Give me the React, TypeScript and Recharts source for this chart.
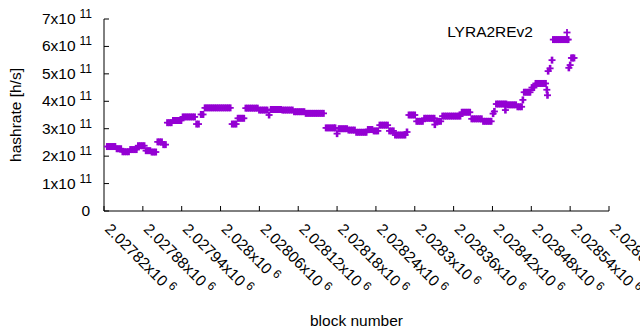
import React from 'react';
import { ScatterChart, Scatter, XAxis, YAxis, Legend } from 'recharts';

const PURPLE = '#9400D3';
const FONT = "'Liberation Sans', Arial, sans-serif";

const seriesName = 'LYRA2REv2';
const xTicks = [2027820, 2027880, 2027940, 2028000, 2028060, 2028120, 2028180, 2028240, 2028300, 2028360, 2028420, 2028480, 2028540, 2028600];
const yTicks = [0, 1e11, 2e11, 3e11, 4e11, 5e11, 6e11, 7e11];

const blocks = [
  2027825, 2027828, 2027831, 2027834, 2027837,
  2027840, 2027843, 2027846,
  2027849, 2027852, 2027855, 2027858,
  2027861, 2027864, 2027867, 2027870,
  2027873, 2027876, 2027879, 2027882,
  2027885, 2027888, 2027891,
  2027894, 2027897, 2027900,
  2027903, 2027906, 2027909,
  2027912, 2027915,
  2027918, 2027921, 2027924,
  2027927, 2027930, 2027933, 2027936, 2027939,
  2027942, 2027945, 2027948, 2027951, 2027954, 2027957, 2027960,
  2027963, 2027966,
  2027970, 2027973,
  2027976, 2027979, 2027982, 2027985, 2027988, 2027991, 2027994, 2027997, 2028000, 2028003, 2028006, 2028009, 2028012, 2028015,
  2028018, 2028021, 2028024,
  2028027, 2028030, 2028033, 2028036,
  2028039, 2028042, 2028045, 2028048, 2028051, 2028054, 2028057,
  2028060, 2028063, 2028066, 2028069, 2028072,
  2028075,
  2028078, 2028081, 2028084, 2028087, 2028090, 2028093,
  2028096, 2028099, 2028102, 2028105, 2028108, 2028111,
  2028114, 2028117, 2028120, 2028123, 2028126, 2028129,
  2028132, 2028135, 2028138, 2028141, 2028144, 2028147, 2028150, 2028153, 2028156, 2028159,
  2028163, 2028166, 2028169, 2028172, 2028175, 2028177,
  2028180,
  2028183, 2028186, 2028189, 2028192, 2028195,
  2028198, 2028201, 2028204, 2028207,
  2028210, 2028213, 2028216, 2028219, 2028222, 2028225,
  2028228, 2028231, 2028234,
  2028237, 2028240, 2028243,
  2028246, 2028249, 2028252, 2028255, 2028258,
  2028261, 2028264, 2028267,
  2028270, 2028273, 2028276, 2028279, 2028282, 2028285,
  2028288,
  2028291, 2028294, 2028297, 2028300,
  2028303, 2028306, 2028309, 2028312,
  2028315, 2028318, 2028321, 2028324, 2028327, 2028330,
  2028331,
  2028334, 2028337, 2028340,
  2028343, 2028346, 2028349, 2028352, 2028355, 2028358, 2028361, 2028364, 2028367, 2028370,
  2028373, 2028376, 2028379, 2028382, 2028385,
  2028388, 2028391, 2028394, 2028397, 2028400, 2028403,
  2028406, 2028409, 2028412, 2028415, 2028418,
  2028421, 2028423,
  2028426, 2028429, 2028432, 2028435, 2028438, 2028441,
  2028440,
  2028444, 2028447, 2028450, 2028453, 2028456,
  2028459, 2028462, 2028465,
  2028467,
  2028469, 2028472, 2028475, 2028478,
  2028481, 2028484,
  2028487, 2028490, 2028493, 2028496, 2028499, 2028502,
  2028504, 2028505, 2028506, 2028509, 2028512,
  2028514, 2028517, 2028520, 2028523, 2028526, 2028529, 2028532, 2028535, 2028537,
  2028538, 2028540,
  2028542, 2028544, 2028546,
];

const hashrate = [
  2.35e11, 2.35e11, 2.35e11, 2.35e11, 2.35e11,
  2.27e11, 2.27e11, 2.27e11,
  2.16e11, 2.16e11, 2.16e11, 2.16e11,
  2.24e11, 2.24e11, 2.24e11, 2.24e11,
  2.38e11, 2.38e11, 2.38e11, 2.38e11,
  2.2e11, 2.2e11, 2.2e11,
  2.15e11, 2.15e11, 2.15e11,
  2.52e11, 2.52e11, 2.52e11,
  2.42e11, 2.42e11,
  3.22e11, 3.22e11, 3.22e11,
  3.3e11, 3.3e11, 3.3e11, 3.3e11, 3.3e11,
  3.43e11, 3.43e11, 3.43e11, 3.43e11, 3.43e11, 3.43e11, 3.43e11,
  3.17e11, 3.17e11,
  3.52e11, 3.52e11,
  3.76e11, 3.76e11, 3.76e11, 3.76e11, 3.76e11, 3.76e11, 3.76e11, 3.76e11, 3.76e11, 3.76e11, 3.76e11, 3.76e11, 3.76e11, 3.76e11,
  3.17e11, 3.17e11, 3.17e11,
  3.38e11, 3.38e11, 3.38e11, 3.38e11,
  3.75e11, 3.75e11, 3.75e11, 3.75e11, 3.75e11, 3.75e11, 3.75e11,
  3.68e11, 3.68e11, 3.68e11, 3.68e11, 3.68e11,
  3.5e11,
  3.7e11, 3.7e11, 3.7e11, 3.7e11, 3.7e11, 3.7e11,
  3.68e11, 3.68e11, 3.68e11, 3.68e11, 3.68e11, 3.68e11,
  3.62e11, 3.62e11, 3.62e11, 3.62e11, 3.62e11, 3.62e11,
  3.56e11, 3.56e11, 3.56e11, 3.56e11, 3.56e11, 3.56e11, 3.56e11, 3.56e11, 3.56e11, 3.56e11,
  3.03e11, 3.03e11, 3.03e11, 3.03e11, 3.03e11, 3.03e11,
  2.82e11,
  3.0e11, 3.0e11, 3.0e11, 3.0e11, 3.0e11,
  2.95e11, 2.95e11, 2.95e11, 2.95e11,
  2.87e11, 2.87e11, 2.87e11, 2.87e11, 2.87e11, 2.87e11,
  2.97e11, 2.97e11, 2.97e11,
  2.92e11, 2.92e11, 2.92e11,
  3.13e11, 3.13e11, 3.13e11, 3.13e11, 3.13e11,
  2.92e11, 2.92e11, 2.92e11,
  2.77e11, 2.77e11, 2.77e11, 2.77e11, 2.77e11, 2.77e11,
  2.88e11,
  3.5e11, 3.5e11, 3.5e11, 3.5e11,
  3.27e11, 3.27e11, 3.27e11, 3.27e11,
  3.38e11, 3.38e11, 3.38e11, 3.38e11, 3.38e11, 3.38e11,
  3.15e11,
  3.27e11, 3.27e11, 3.27e11,
  3.46e11, 3.46e11, 3.46e11, 3.46e11, 3.46e11, 3.46e11, 3.46e11, 3.46e11, 3.46e11, 3.46e11,
  3.6e11, 3.6e11, 3.6e11, 3.6e11, 3.6e11,
  3.36e11, 3.36e11, 3.36e11, 3.36e11, 3.36e11, 3.36e11,
  3.27e11, 3.27e11, 3.27e11, 3.27e11, 3.27e11,
  3.55e11, 3.63e11,
  3.9e11, 3.9e11, 3.9e11, 3.9e11, 3.9e11, 3.9e11,
  3.68e11,
  3.87e11, 3.87e11, 3.87e11, 3.87e11, 3.87e11,
  3.8e11, 3.8e11, 3.8e11,
  4.05e11,
  4.33e11, 4.33e11, 4.33e11, 4.33e11,
  4.5e11, 4.5e11,
  4.65e11, 4.65e11, 4.65e11, 4.65e11, 4.65e11, 4.65e11,
  4.42e11, 4.22e11, 5.1e11, 5.2e11, 5.5e11,
  6.25e11, 6.25e11, 6.25e11, 6.25e11, 6.25e11, 6.25e11, 6.25e11, 6.25e11, 6.25e11,
  5.22e11, 5.32e11,
  5.58e11, 5.58e11, 5.58e11,
];

const points = blocks.map((b, i) => ({ block: b, hashrate: hashrate[i] }));

const H = 3.5;

const PlusMark = ({ cx, cy }: { cx: number; cy: number }) => (
  <g>
    <line x1={cx - H} y1={cy} x2={cx + H} y2={cy} stroke={PURPLE} strokeWidth={1.8} />
    <line x1={cx} y1={cy - H} x2={cx} y2={cy + H} stroke={PURPLE} strokeWidth={2.6} />
  </g>
);

const PlusShape = (props: any) => {
  const { cx, cy } = props;
  if (cx == null || cy == null) return null;
  return <PlusMark cx={cx} cy={cy} />;
};

const fmtX = (v: number) => Number((v / 1e6).toFixed(5)).toString();

const XTick = (props: any) => {
  const { x, y, payload } = props;
  return (
    <g>
      <line x1={x} y1={y} x2={x} y2={y - 5} stroke="#000" />
      <text
        transform={`translate(${x},${y + 19}) rotate(45)`}
        fontSize={15.5}
        fontFamily={FONT}
        fill="#000"
      >
        {fmtX(payload.value)}x10
        <tspan dx={4} dy={-5} fontSize={12} fill="#000">6</tspan>
      </text>
    </g>
  );
};

const TopTick = (props: any) => {
  const { x, y } = props;
  return <line x1={x} y1={y} x2={x} y2={y + 5} stroke="#000" />;
};

const YTick = (props: any) => {
  const { x, y, payload } = props;
  const v = Math.round(payload.value / 1e11);
  return (
    <g>
      <line x1={x} y1={y} x2={x + 5} y2={y} stroke="#000" />
      {v === 0 ? (
        <text x={x - 14} y={y + 5} textAnchor="end" fontSize={15.5} fontFamily={FONT} fill="#000">0</text>
      ) : (
        <text x={x - 12} y={y + 5} textAnchor="end" fontSize={15.5} fontFamily={FONT} fill="#000">
          {v}x10
          <tspan dx={4} dy={-6} fontSize={12} fill="#000">11</tspan>
        </text>
      )}
    </g>
  );
};

const RightTick = (props: any) => {
  const { x, y } = props;
  return <line x1={x} y1={y} x2={x - 5} y2={y} stroke="#000" />;
};

const LegendContent = () => (
  <svg width={640} height={50} style={{ display: 'block', overflow: 'visible' }}>
    <text x={533} y={37} textAnchor="end" fontSize={15.5} fontFamily={FONT} fill="#000">{seriesName}</text>
    <line x1={567 - H} y1={32.5} x2={567 + H} y2={32.5} stroke={PURPLE} strokeWidth={1.8} />
    <line x1={567} y1={32.5 - H} x2={567} y2={32.5 + H} stroke={PURPLE} strokeWidth={1.8} />
  </svg>
);

export default function App() {
  return (
    <div style={{ position: 'absolute', left: 0, top: 0, width: 640, height: 330, background: '#fff', fontFamily: FONT }}>
      <ScatterChart width={640} height={330} margin={{ top: 19, right: 31, bottom: 0, left: 0 }}>
        <XAxis
          xAxisId={0}
          type="number"
          dataKey="block"
          domain={[2027820, 2028600]}
          ticks={xTicks}
          interval={0}
          allowDataOverflow
          height={119}
          tickSize={0}
          tickMargin={0}
          tick={<XTick />}
          axisLine={{ stroke: '#000' }}
          tickLine={false}
          label={{ value: 'block number', position: 'insideBottom', offset: 4, fontSize: 15.5, fontFamily: FONT, fill: '#000' }}
        />
        <XAxis
          xAxisId="top"
          orientation="top"
          type="number"
          domain={[2027820, 2028600]}
          ticks={xTicks}
          interval={0}
          allowDataOverflow
          height={0}
          tickSize={0}
          tickMargin={0}
          tick={<TopTick />}
          axisLine={{ stroke: '#000' }}
          tickLine={false}
        />
        <YAxis
          yAxisId={0}
          type="number"
          dataKey="hashrate"
          domain={[0, 7e11]}
          ticks={yTicks}
          interval={0}
          allowDataOverflow
          width={104}
          tickSize={0}
          tickMargin={0}
          tick={<YTick />}
          axisLine={{ stroke: '#000' }}
          tickLine={false}
          label={{ value: 'hashrate [h/s]', angle: -90, position: 'insideLeft', offset: 15, fontSize: 15.5, fontFamily: FONT, fill: '#000', style: { textAnchor: 'middle' } }}
        />
        <YAxis
          yAxisId="right"
          orientation="right"
          type="number"
          domain={[0, 7e11]}
          ticks={yTicks}
          interval={0}
          allowDataOverflow
          width={0}
          tickSize={0}
          tickMargin={0}
          tick={<RightTick />}
          axisLine={{ stroke: '#000' }}
          tickLine={false}
        />
        <Legend
          layout="horizontal"
          verticalAlign="middle"
          align="center"
          wrapperStyle={{ left: 0, top: 0, width: 640, height: 50, pointerEvents: 'none' }}
          content={<LegendContent />}
        />
        <Scatter
          name={seriesName}
          data={points}
          xAxisId={0}
          yAxisId={0}
          fill={PURPLE}
          shape={<PlusShape />}
          isAnimationActive={false}
        />
      </ScatterChart>
    </div>
  );
}
